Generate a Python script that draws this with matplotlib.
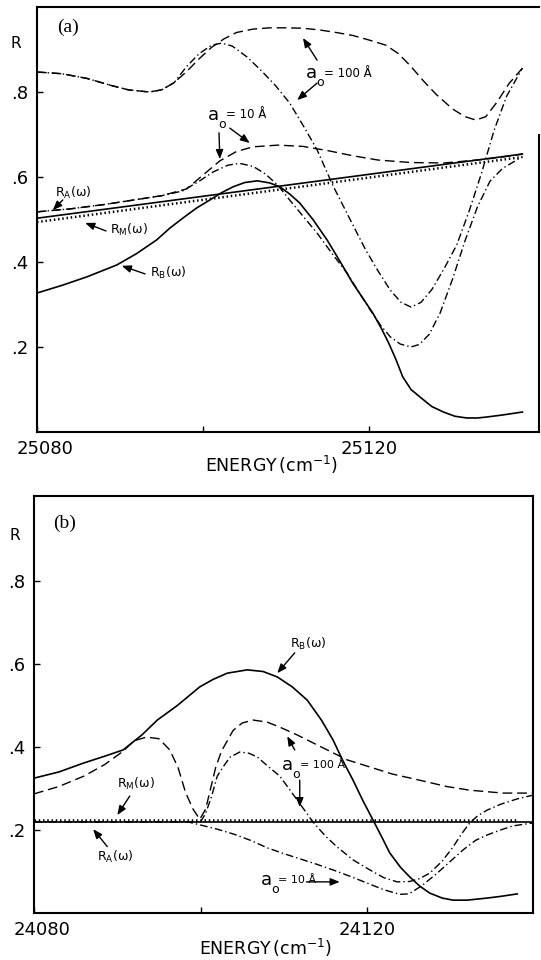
import matplotlib
matplotlib.use("Agg")
import matplotlib.pyplot as plt
from matplotlib.transforms import ScaledTranslation

plt.rcParams['font.family'] = ['DejaVu Sans']

# ---------------- panel (a) ----------------
a_line_E = [25080, 25138.4]
a_RA = [0.503, 0.654]
a_RM = [0.494, 0.647]

a_RB_E = [25080, 25083, 25086, 25089.6, 25092, 25094.4, 25096, 25097.6, 25099.2,
          25100.8, 25102.2, 25103.6, 25105, 25106.5, 25108, 25109.2, 25110.4,
          25111.6, 25113.2, 25114.9, 25116.5, 25118, 25119.2, 25120.4, 25121.4,
          25122.3, 25123.2, 25124, 25125, 25126.1, 25127.5, 25128.9, 25130.3,
          25131.7, 25133, 25134, 25136, 25138.4]
a_RB = [0.327, 0.345, 0.365, 0.393, 0.42, 0.452, 0.48, 0.504, 0.527,
        0.546, 0.563, 0.577, 0.587, 0.591, 0.586, 0.577, 0.56,
        0.539, 0.50, 0.452, 0.40, 0.35, 0.315, 0.28, 0.245,
        0.21, 0.17, 0.13, 0.10, 0.082, 0.06, 0.047, 0.037,
        0.033, 0.033, 0.035, 0.04, 0.047]

a_d100_E = [25080, 25083, 25086, 25089, 25091, 25093.5, 25095, 25096.5, 25098,
            25099.5, 25101, 25102.5, 25104, 25106, 25108, 25110, 25112, 25114,
            25116, 25118, 25120, 25122, 25123.5, 25125, 25126.5, 25128, 25130,
            25131.5, 25132.8, 25134, 25135.3, 25136.8, 25138.4]
a_d100 = [0.847, 0.843, 0.832, 0.815, 0.805, 0.800, 0.805, 0.822, 0.848,
          0.878, 0.905, 0.925, 0.940, 0.948, 0.951, 0.951, 0.950, 0.946,
          0.940, 0.933, 0.922, 0.91, 0.89, 0.86, 0.826, 0.795, 0.76,
          0.742, 0.734, 0.742, 0.775, 0.82, 0.856]

a_dd100_E = [25080, 25083, 25086, 25089, 25091, 25093.5, 25095, 25096.5, 25098,
             25099.5, 25101, 25102.2, 25103.5, 25105.3, 25107, 25108.7, 25110.4,
             25112, 25113.7, 25115.6, 25117.7, 25119.5, 25121, 25122.5, 25123.8,
             25125, 25126.2, 25127.5, 25129, 25130.5, 25132, 25133.5, 25135,
             25136.5, 25138.4]
a_dd100 = [0.847, 0.843, 0.832, 0.815, 0.805, 0.800, 0.805, 0.822, 0.86,
           0.89, 0.91, 0.915, 0.908, 0.882, 0.85, 0.815, 0.774,
           0.722, 0.664, 0.58, 0.499, 0.43, 0.38, 0.334, 0.305,
           0.294, 0.305, 0.335, 0.385, 0.44, 0.52, 0.61, 0.71,
           0.79, 0.856]

a_d10_E = [25080, 25084, 25088, 25092, 25095, 25098, 25100, 25102, 25104, 25106,
           25109, 25112, 25115, 25118, 25121, 25125, 25129, 25133, 25136, 25138.4]
a_d10 = [0.518, 0.525, 0.535, 0.547, 0.556, 0.572, 0.605, 0.638, 0.660, 0.671,
         0.675, 0.672, 0.662, 0.650, 0.640, 0.634, 0.633, 0.640, 0.647, 0.654]

a_dd10_E = [25080, 25084, 25088, 25092, 25095, 25097.5, 25099.5, 25101.2, 25103,
            25104.4, 25106, 25107.5, 25109, 25110.4, 25112, 25113.7, 25115.5,
            25117.3, 25118.7, 25120.1, 25121.3, 25122.5, 25123.7, 25125, 25126,
            25127.2, 25128.5, 25130, 25131.5, 25133, 25134.5, 25136, 25137.3,
            25138.4]
a_dd10 = [0.518, 0.525, 0.535, 0.547, 0.556, 0.567, 0.59, 0.612, 0.628,
          0.632, 0.625, 0.607, 0.58, 0.546, 0.508, 0.468, 0.42,
          0.374, 0.33, 0.287, 0.252, 0.224, 0.207, 0.200, 0.206,
          0.23, 0.28, 0.36, 0.45, 0.53, 0.59, 0.62, 0.635,
          0.648]

# ---------------- panel (b) ----------------
b_line_E = [24080, 24139.9]
b_RA = [0.219, 0.219]
b_RM_E = [24080, 24138]
b_RM = [0.224, 0.224]

b_RB_E = [24080, 24083, 24085.9, 24088.5, 24090.7, 24093, 24094.8, 24097.2, 24099.9,
          24101.5, 24103.2, 24105.6, 24107.5, 24109.2, 24111, 24112.8, 24114.5,
          24115.9, 24117, 24118.3, 24119.5, 24120.7, 24121.7, 24122.7, 24124,
          24125.1, 24126.3, 24127.5, 24129, 24130.3, 24132, 24134.4, 24136, 24138]
b_RB = [0.325, 0.34, 0.361, 0.378, 0.393, 0.43, 0.465, 0.50, 0.545,
        0.563, 0.578, 0.586, 0.582, 0.569, 0.545, 0.513, 0.465,
        0.417, 0.37, 0.32, 0.27, 0.224, 0.185, 0.145, 0.11,
        0.087, 0.065, 0.048, 0.036, 0.031, 0.031, 0.036, 0.04, 0.046]

b_d100_E = [24080, 24083, 24086, 24088.5, 24090.7, 24092, 24093.5, 24095, 24096.3,
            24097.3, 24098.2, 24099.1, 24099.9, 24100.6, 24101.2, 24101.8, 24102.5,
            24103.9, 24105, 24106.3, 24108, 24109.5, 24111.5, 24113.5, 24115.5,
            24117.6, 24120.3, 24123, 24126.3, 24129.5, 24132.3, 24136.3, 24139.9]
b_d100 = [0.287, 0.305, 0.33, 0.358, 0.39, 0.415, 0.424, 0.42, 0.393,
          0.35, 0.29, 0.25, 0.226, 0.25, 0.30, 0.35, 0.39,
          0.44, 0.458, 0.465, 0.46, 0.448, 0.43, 0.41, 0.39,
          0.369, 0.352, 0.335, 0.32, 0.305, 0.296, 0.289, 0.289]

b_dd100_E = [24080, 24090, 24100, 24100.6, 24101.3, 24102, 24102.7, 24103.5, 24104.7,
             24105.8, 24106.8, 24108, 24109.5, 24111.5, 24113.5, 24115, 24116.4,
             24118.3, 24120.3, 24122, 24123.6, 24125.1, 24126.3, 24127.5, 24129,
             24130.3, 24131.3, 24132.3, 24133.3, 24134.4, 24136, 24138, 24139.9]
b_dd100 = [0.22, 0.22, 0.22, 0.24, 0.28, 0.33, 0.352, 0.375, 0.388,
           0.385, 0.376, 0.355, 0.33, 0.275, 0.219, 0.185, 0.159,
           0.128, 0.104, 0.085, 0.075, 0.076, 0.083, 0.096, 0.125,
           0.159, 0.19, 0.217, 0.235, 0.248, 0.262, 0.275, 0.284]

b_dd10_E = [24080, 24090, 24098.4, 24100, 24102, 24104, 24106, 24108, 24110, 24112,
            24114, 24116, 24118, 24120, 24122, 24123.9, 24125, 24126.5, 24128.4,
            24130, 24131.5, 24133, 24134.4, 24136, 24137.5, 24139.9]
b_dd10 = [0.22, 0.22, 0.22, 0.212, 0.202, 0.19, 0.175, 0.157, 0.143, 0.13,
          0.117, 0.103, 0.088, 0.072, 0.056, 0.045, 0.046, 0.065, 0.096,
          0.125, 0.152, 0.175, 0.188, 0.2, 0.21, 0.217]

y_ticks = [0.2, 0.4, 0.6, 0.8]
y_ticklabels = ['.2', '.4', '.6', '.8']
a_xticks = [25080, 25100, 25120]
a_xticklabels = ['25080', '', '25120']
b_xticks = [24080, 24100, 24120]
b_xticklabels = ['24080', '', '24120']

SOLID = dict(color='k', lw=1.2, ls='-')
DOTTED = dict(color='k', lw=1.8, ls=(0, (0.6, 1.1)))
DASHED = dict(color='k', lw=1.0, ls=(0, (7, 3.5)))
DASHDOT = dict(color='k', lw=1.0, ls=(0, (5.5, 2.2, 1.0, 2.2)))

ARROW = dict(arrowstyle='-|>,head_length=0.55,head_width=0.22', lw=1.0,
             color='k', shrinkA=0, shrinkB=0)

fig = plt.figure(figsize=(5.41, 9.60), dpi=100)
ax_a = fig.add_axes([37 / 541, 1 - 432 / 960, 502 / 541, 425 / 960])
ax_b = fig.add_axes([34 / 541, 1 - 913 / 960, 499 / 541, 417 / 960])


def style_axes(ax, xlim, ylim, xticks, xticklabels):
    ax.set_xlim(*xlim)
    ax.set_ylim(*ylim)
    ax.set_xticks(xticks)
    ax.set_xticklabels(xticklabels, fontsize=13)
    ax.set_yticks(y_ticks)
    ax.set_yticklabels(y_ticklabels, fontsize=13)
    ax.tick_params(direction='in', length=4, width=1, pad=6)
    for s in ax.spines.values():
        s.set_linewidth(1.5)
    ax.set_xlabel(r'ENERGY$\,(\mathregular{cm^{-1}})$', fontsize=12.5)
    # the first energy label sits a little right of its tick
    first = ax.get_xticklabels()[0]
    first.set_transform(first.get_transform() +
                        ScaledTranslation(0.08, 0, fig.dpi_scale_trans))


def r_label(ax, x, y, sub, tail, tip):
    ax.text(x, y, r'$\mathregular{R_%s(\omega)}$' % sub, fontsize=9,
            ha='left', va='baseline')
    ax.annotate('', xy=tip, xytext=tail, arrowprops=ARROW)


def ao_label(ax, x, y, value, size=8.5):
    ax.text(x, y, 'a', fontsize=13, ha='left', va='baseline')
    ax.annotate('o', xy=(x, y), xytext=(7.5, -6), textcoords='offset points',
                fontsize=9, ha='left', va='baseline')
    ax.annotate('= %s Å' % value, xy=(x, y), xytext=(12.5, 1),
                textcoords='offset points', fontsize=size, ha='left',
                va='baseline')


# ---- panel (a) ----
ax = ax_a
ax.plot(a_line_E, a_RA, **SOLID)
ax.plot(a_line_E, a_RM, **DOTTED)
ax.plot(a_RB_E, a_RB, **SOLID)
ax.plot(a_d100_E, a_d100, **DASHED)
ax.plot(a_dd100_E, a_dd100, **DASHDOT)
ax.plot(a_d10_E, a_d10, **DASHED)
ax.plot(a_dd10_E, a_dd10, **DASHDOT)
style_axes(ax, (25080, 25140.4), (0, 1.0), a_xticks, a_xticklabels)
ax.spines['right'].set_bounds(0, 0.70)
ax.xaxis.set_label_coords(0.468, -0.052)
ax.text(25083.7, 0.951, '(a)', family='Liberation Serif', fontsize=14,
        ha='center', va='center')
ax.text(25077.4, 0.915, 'R', fontsize=11, ha='center', va='center',
        clip_on=False)

ao_label(ax, 25112.4, 0.833, '100')
ax.annotate('', xy=(25112.0, 0.927), xytext=(25113.7, 0.875), arrowprops=ARROW)
ax.annotate('', xy=(25111.3, 0.781), xytext=(25113.7, 0.821), arrowprops=ARROW)

ao_label(ax, 25100.6, 0.735, '10')
ax.annotate('', xy=(25102.0, 0.642), xytext=(25101.9, 0.704), arrowprops=ARROW)
ax.annotate('', xy=(25105.6, 0.680), xytext=(25103.2, 0.715), arrowprops=ARROW)

r_label(ax, 25082.2, 0.553, 'A', (25083.1, 0.546), (25081.9, 0.522))
r_label(ax, 25088.8, 0.466, 'M', (25088.3, 0.473), (25085.8, 0.492))
r_label(ax, 25093.6, 0.366, 'B', (25093.0, 0.372), (25090.2, 0.391))

# ---- panel (b) ----
ax = ax_b
ax.plot(b_line_E, b_RA, **SOLID)
ax.plot(b_RM_E, b_RM, **DOTTED)
ax.plot(b_RB_E, b_RB, **SOLID)
ax.plot(b_d100_E, b_d100, **DASHED)
ax.plot(b_dd100_E, b_dd100, **DASHDOT)
ax.plot(b_dd10_E, b_dd10, **DASHDOT)
style_axes(ax, (24080, 24139.9), (0, 1.005), b_xticks, b_xticklabels)
ax.xaxis.set_label_coords(0.463, -0.058)
ax.text(24083.7, 0.94, '(b)', family='Liberation Serif', fontsize=14,
        ha='center', va='center')
ax.text(24077.7, 0.911, 'R', fontsize=11, ha='center', va='center',
        clip_on=False)

r_label(ax, 24110.7, 0.639, 'B', (24111.3, 0.627), (24109.2, 0.578))
ao_label(ax, 24109.8, 0.345, '100', size=8)
ax.annotate('', xy=(24110.4, 0.426), xytext=(24111.3, 0.393), arrowprops=ARROW)
ax.annotate('', xy=(24111.9, 0.255), xytext=(24111.9, 0.320), arrowprops=ARROW)

r_label(ax, 24090.0, 0.302, 'M', (24091.5, 0.282), (24090.0, 0.236))
r_label(ax, 24087.6, 0.126, 'A', (24088.8, 0.160), (24087.1, 0.202))

ao_label(ax, 24107.2, 0.068, '10', size=8)
ax.annotate('', xy=(24116.7, 0.075), xytext=(24112.7, 0.075), arrowprops=ARROW)

fig.savefig('out.png', dpi=100)
